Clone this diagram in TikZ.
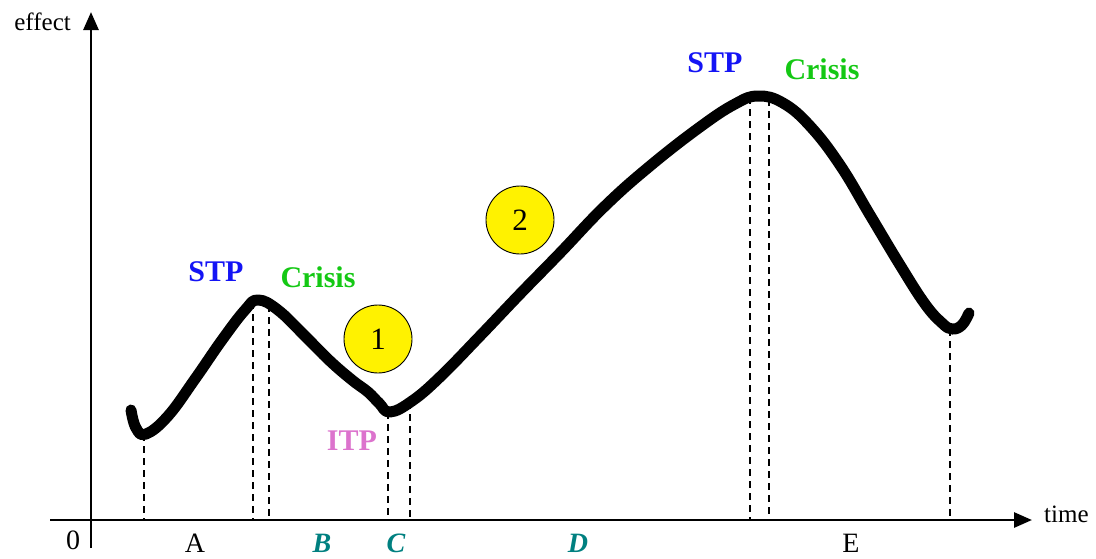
\documentclass[tikz,border=0pt]{standalone}
\usepackage{fontspec}
\setmainfont{Liberation Serif}
\usepackage{tikz}
\usetikzlibrary{arrows.meta,positioning,calc}
\usepackage{xcolor}
\definecolor{stpblue}{RGB}{20,20,245}
\definecolor{crisisgreen}{RGB}{20,200,20}
\definecolor{itppink}{RGB}{220,115,205}
\definecolor{phaseteal}{RGB}{0,128,128}

\begin{document}
\begin{tikzpicture}[
    x=1pt, y=-1pt,
    >={Triangle[length=18pt,width=15pt]},
    axis/.style={->, line width=2.8pt},
    guide/.style={line width=2pt, dash pattern=on 7pt off 5pt},
    curve/.style={line width=11pt, line cap=round, line join=round},
    axlabel/.style={font=\fontsize{25}{28}\selectfont, inner sep=0pt},
    phase/.style={font=\fontsize{28}{30}\selectfont, inner sep=0pt},
    phaseit/.style={phase, font=\fontsize{28}{30}\selectfont\bfseries\itshape, text=phaseteal},
    point/.style={font=\fontsize{30}{32}\selectfont\bfseries, inner sep=0pt},
    stepmark/.style={draw, circle, fill=yellow, line width=0.9pt,
                     minimum size=68pt, inner sep=0pt, font=\fontsize{31}{33}\selectfont}
  ]
  \useasboundingbox (0,0) rectangle (1096,558);

  %% Axes
  \coordinate (ybot)   at (91,548);
  \coordinate (ytop)   at (91,12);
  \coordinate (xleft)  at (50,520);
  \coordinate (xright) at (1032,520);
  \draw[axis] (ybot) -- (ytop);
  \draw[axis] (xleft) -- (xright);
  \node (effect) [axlabel, anchor=east] at ($(ytop)+(-20,10)$) {effect};
  \node (time)   [axlabel, anchor=west] at ($(xright)+(12,-6)$) {time};
  \node (zero)   [phase] at (73,540) {0};

  %% Turning points on the curve
  \coordinate (minA)  at (144,434);
  \coordinate (stp1)  at (253,302);
  \coordinate (cr1)   at (269,305);
  \coordinate (itp)   at (388,412);
  \coordinate (c1)    at (410,402);
  \coordinate (stp2)  at (750,97);
  \coordinate (cr2)   at (769,99);
  \coordinate (minE)  at (950,329);

  %% Dashed guides down to the time axis
  \foreach \p in {minA,stp1,cr1,itp,c1,stp2,cr2,minE}
    \draw[guide] (\p) -- (\p |- xleft);

  %% Effect curve
  \draw[curve] plot[smooth, tension=0.7] coordinates {
      (131,410) (136,428) (146,434) (168,416) (195,379) (222,340)
      (245,310) (258,300) (278,310) (305,336) (330,361) (352,380)
      (368,392) (379,403) (390,412) (412,401) (440,377) (480,336)
      (520,294) (560,253) (605,206) (650,166) (700,127) (735,104)
      (758,96) (783,103) (810,126) (840,165) (870,215) (900,265)
      (925,304) (942,323) (952,329) (962,325) (969,313)};

  %% Labels at the turning points
  \node (stpA)    [point, text=stpblue]     at (216,272) {STP};
  \node (crisisA) [point, text=crisisgreen] at (318,277) {Crisis};
  \node (itpC)    [point, text=itppink]     at (352,441) {ITP};
  \node (stpE)    [point, text=stpblue]     at (715,63)  {STP};
  \node (crisisE) [point, text=crisisgreen] at (822,69)  {Crisis};

  %% Numbered markers
  \node (m1) [stepmark] at (378,339) {1};
  \node (m2) [stepmark] at (520,220) {2};

  %% Phases along the time axis
  \node (pA) [phase]   at (195,543) {A};
  \node (pB) [phaseit] at (322,543) {B};
  \node (pC) [phaseit] at (396,543) {C};
  \node (pD) [phaseit] at (578,543) {D};
  \node (pE) [phase]   at (851,543) {E};

\end{tikzpicture}
\end{document}
